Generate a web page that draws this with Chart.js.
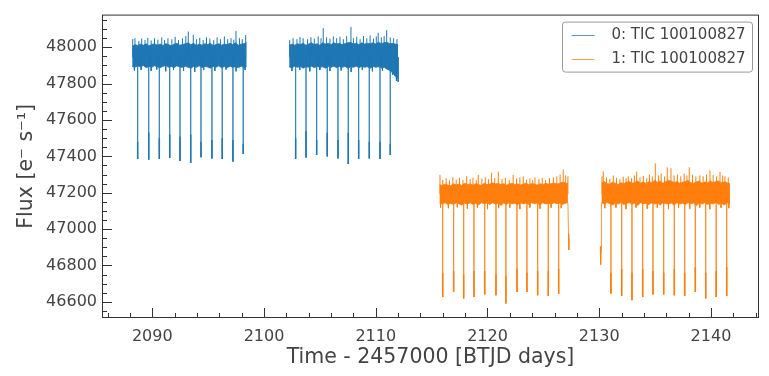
<!DOCTYPE html>
<html>
<head>
<meta charset="utf-8">
<script src="https://cdn.jsdelivr.net/npm/chart.js@4/dist/chart.umd.min.js"></script>
<style>
  html, body { margin: 0; padding: 0; background: #fff; }
</style>
</head>
<body>
<canvas id="lightCurve" width="769" height="376"></canvas>
<script>
// Light curve read off the picture: solid part of the noise band sampled
// every 0.25 d, the single noise spikes that stick out of it, and the eclipses.
const bandStep = 0.25;

// sector 0 (blue)
const seg1Start = 2088.2;
const seg1Upper = [48005, 48015, 48010, 48018, 48012, 48020, 48008, 48015, 48020, 48012,
  48018, 48010, 48020, 48015, 48008, 48018, 48022, 48012, 48015, 48020,
  48025, 48015, 48022, 48010, 48018, 48012, 48020, 48015, 48022, 48010,
  48015, 48020, 48012, 48018, 48015, 48022, 48015, 48025, 48012, 48018,
  48020, 48025];
const seg1Lower = [47895, 47890, 47898, 47892, 47900, 47888, 47895, 47890, 47898, 47893,
  47888, 47895, 47900, 47890, 47895, 47888, 47898, 47892, 47890, 47896,
  47890, 47885, 47895, 47890, 47898, 47888, 47895, 47892, 47885, 47895,
  47890, 47898, 47888, 47894, 47888, 47896, 47890, 47893, 47888, 47896,
  47890, 47895];

const seg2Start = 2102.25;
const seg2Upper = [48010, 48018, 48012, 48020, 48015, 48022, 48012, 48018, 48025, 48015,
  48020, 48012, 48025, 48018, 48022, 48015, 48025, 48018, 48022, 48015,
  48020, 48025, 48028, 48018, 48022, 48015, 48025, 48018, 48022, 48020,
  48025, 48018, 48028, 48020, 48025, 48028, 48020, 48022, 48018, 48015];
const seg2Lower = [47892, 47888, 47896, 47890, 47895, 47885, 47893, 47890, 47896, 47888,
  47895, 47890, 47893, 47885, 47895, 47890, 47896, 47888, 47894, 47890,
  47895, 47885, 47893, 47890, 47896, 47888, 47895, 47890, 47893, 47885,
  47895, 47890, 47893, 47886, 47890, 47880, 47872, 47860, 47840, 47828];

const blueLevel = 47945;
const blueSpikeTimes = [2088.25, 2088.45, 2088.8, 2089.05, 2089.35, 2089.6, 2089.9, 2090.2, 2090.5, 2090.85,
  2091.1, 2091.4, 2091.75, 2092.05, 2092.35, 2092.7, 2093.0, 2093.22, 2093.67, 2093.95,
  2094.25, 2094.55, 2094.85, 2095.15, 2095.5, 2095.8, 2096.1, 2096.45, 2096.75, 2097.05,
  2097.3, 2097.49, 2097.8, 2098.05, 2098.36,
  2102.3, 2102.6, 2102.95, 2103.22, 2103.5, 2103.9, 2104.2, 2104.5, 2104.85, 2105.1,
  2105.3, 2105.6, 2105.9, 2106.2, 2106.5, 2106.8, 2107.1, 2107.4, 2107.78, 2108.0,
  2108.3, 2108.6, 2108.9, 2109.2, 2109.5, 2109.8, 2110.05, 2110.22, 2110.5, 2110.75,
  2110.98, 2111.3, 2111.6, 2111.9];
const blueSpikeTops = [48045, 48050, 48035, 48048, 48040, 48052, 48038, 48050, 48042, 48055,
  48040, 48050, 48045, 48058, 48040, 48050, 48062, 48087, 48070, 48045,
  48052, 48040, 48055, 48048, 48040, 48055, 48045, 48060, 48045, 48050,
  48042, 48090, 48050, 48045, 48068,
  48040, 48050, 48045, 48057, 48050, 48045, 48055, 48048, 48060, 48050,
  48105, 48055, 48048, 48060, 48050, 48058, 48045, 48062, 48112, 48050,
  48058, 48045, 48062, 48050, 48065, 48048, 48060, 48080, 48055, 48062,
  48094, 48055, 48050, 48045];
const blueDropTimes = [2088.4, 2089.0, 2089.9, 2090.4, 2091.2, 2091.9, 2092.8, 2093.8, 2094.6, 2095.6,
  2096.6, 2097.5, 2098.3, 2102.5, 2103.2, 2104.1, 2105.0, 2105.9, 2106.9, 2107.8,
  2108.8, 2109.7, 2110.6, 2111.5, 2111.85, 2112.0];
const blueDropBottoms = [47872, 47875, 47870, 47878, 47868, 47875, 47870, 47865, 47875, 47870,
  47878, 47868, 47875, 47870, 47875, 47868, 47875, 47870, 47872, 47865,
  47875, 47868, 47872, 47850, 47815, 47810];

// sector 1 (orange)
const seg3Start = 2115.7;
const seg3Upper = [47245, 47240, 47248, 47242, 47238, 47250, 47243, 47248, 47240, 47252,
  47245, 47248, 47242, 47250, 47245, 47240, 47252, 47245, 47248, 47255,
  47248, 47252, 47245, 47250, 47242, 47248, 47252, 47245, 47250, 47242,
  47248, 47252, 47245, 47250, 47248, 47242, 47250, 47245, 47252, 47248,
  47250, 47255, 47248, 47252, 47258, 47255, 47250];
const seg3Lower = [47142, 47138, 47145, 47136, 47142, 47135, 47145, 47140, 47132, 47143,
  47138, 47145, 47136, 47142, 47133, 47145, 47140, 47143, 47136, 47145,
  47138, 47142, 47130, 47143, 47136, 47146, 47138, 47142, 47134, 47145,
  47138, 47143, 47136, 47145, 47140, 47143, 47133, 47145, 47138, 47142,
  47136, 47145, 47140, 47143, 47136, 47142, 47145];
const seg3TailTimes = [2127.25, 2127.28, 2127.3];
const seg3TailFlux = [46975, 46885, 46950];

const seg4HeadTimes = [2130.1, 2130.13, 2130.16];
const seg4HeadFlux = [46905, 46805, 46870];
const seg4Start = 2130.2;
const seg4Upper = [47255, 47262, 47250, 47248, 47258, 47252, 47245, 47255, 47250, 47258,
  47262, 47252, 47258, 47265, 47252, 47260, 47250, 47262, 47255, 47268,
  47258, 47265, 47252, 47262, 47268, 47265, 47255, 47262, 47252, 47258,
  47262, 47268, 47255, 47252, 47260, 47265, 47252, 47260, 47255, 47265,
  47255, 47262, 47265, 47255, 47260, 47255, 47250];
const seg4Lower = [47145, 47138, 47146, 47140, 47132, 47143, 47138, 47146, 47135, 47142,
  47145, 47138, 47143, 47130, 47145, 47140, 47142, 47135, 47145, 47138,
  47143, 47133, 47145, 47140, 47138, 47143, 47132, 47145, 47138, 47142,
  47135, 47145, 47140, 47143, 47130, 47142, 47138, 47145, 47135, 47143,
  47138, 47146, 47136, 47142, 47133, 47145, 47140];

const orangeLevel = 47192;
const orangeSpikeTimes = [2115.75, 2116.0, 2116.3, 2116.6, 2116.9, 2117.2, 2117.5, 2117.8, 2118.14, 2118.45,
  2118.7, 2119.0, 2119.18, 2119.5, 2119.8, 2120.1, 2120.37, 2120.65, 2120.97, 2121.3,
  2121.6, 2121.95, 2122.3, 2122.6, 2122.9, 2123.2, 2123.5, 2123.8, 2124.05, 2124.25,
  2124.6, 2124.9, 2125.2, 2125.55, 2125.9, 2126.2, 2126.5, 2126.78, 2127.0, 2127.2,
  2130.25, 2130.36, 2130.65, 2130.95, 2131.26, 2131.55, 2131.85, 2132.15, 2132.4, 2132.6,
  2132.9, 2133.15, 2133.35, 2133.65, 2133.95, 2134.25, 2134.5, 2134.75, 2135.02, 2135.3,
  2135.55, 2135.85, 2136.09, 2136.42, 2136.7, 2137.0, 2137.3, 2137.6, 2137.85, 2138.06,
  2138.35, 2138.65, 2139.01, 2139.3, 2139.6, 2139.91, 2140.2, 2140.5, 2140.81, 2141.05,
  2141.25, 2141.55];
const orangeSpikeTops = [47298, 47270, 47280, 47268, 47285, 47272, 47282, 47270, 47292, 47275,
  47282, 47270, 47298, 47278, 47285, 47275, 47310, 47280, 47316, 47275,
  47282, 47270, 47298, 47278, 47285, 47290, 47272, 47280, 47270, 47285,
  47275, 47282, 47270, 47280, 47285, 47290, 47300, 47328, 47295, 47290,
  47290, 47319, 47285, 47278, 47295, 47282, 47275, 47288, 47280, 47290,
  47282, 47295, 47316, 47285, 47292, 47280, 47300, 47290, 47362, 47295,
  47305, 47290, 47340, 47335, 47295, 47300, 47290, 47305, 47295, 47340,
  47298, 47290, 47295, 47290, 47300, 47322, 47298, 47290, 47315, 47295,
  47290, 47285];
const orangeDropTimes = [2115.8, 2116.5, 2117.3, 2118.2, 2119.1, 2120.0, 2121.0, 2122.0, 2122.9, 2123.8,
  2124.7, 2125.7, 2126.6, 2130.5, 2131.5, 2132.4, 2133.3, 2134.3, 2135.2, 2136.2,
  2137.1, 2138.1, 2139.0, 2139.9, 2140.9, 2141.6];
const orangeDropBottoms = [47118, 47115, 47120, 47112, 47118, 47110, 47115, 47118, 47110, 47118,
  47112, 47118, 47115, 47115, 47118, 47110, 47118, 47112, 47118, 47110,
  47118, 47112, 47118, 47110, 47118, 47115];

// eclipses: bottom of each dip and top of its dense lower part
const blueDipTimes = [2088.69, 2089.68, 2090.63, 2091.56, 2092.48, 2093.44, 2094.36, 2095.34, 2096.26, 2097.22, 2098.14,
  2102.83, 2103.76, 2104.71, 2105.66, 2106.62, 2107.54, 2108.47, 2109.42, 2110.38, 2111.3];
const blueDipDepths = [47386, 47382, 47386, 47391, 47375, 47364, 47395, 47389, 47386, 47371, 47413,
  47386, 47393, 47408, 47400, 47389, 47358, 47386, 47389, 47386, 47408];
const blueDipCores = [47480, 47530, 47500, 47520, 47510, 47520, 47480, 47490, 47500, 47490, 47470,
  47500, 47540, 47490, 47530, 47490, 47530, 47490, 47480, 47480, 47470];

const orangeDipTimes = [2115.99, 2116.97, 2117.87, 2118.79, 2119.75, 2120.76, 2121.65, 2122.64, 2123.53, 2124.49, 2125.44, 2126.37,
  2131.05, 2132.01, 2132.93, 2133.89, 2134.81, 2135.77, 2136.72, 2137.65, 2138.6, 2139.53, 2140.47, 2141.41];
const orangeDipDepths = [46627, 46654, 46618, 46627, 46640, 46636, 46591, 46654, 46654, 46636, 46632, 46645,
  46645, 46632, 46609, 46627, 46640, 46640, 46636, 46632, 46654, 46618, 46627, 46632];
const orangeDipCores = [46760, 46770, 46750, 46770, 46770, 46750, 46740, 46780, 46760, 46770, 46770, 46780,
  46760, 46780, 46760, 46780, 46770, 46760, 46780, 46760, 46790, 46760, 46770, 46790];

const seriesLabels = ['0: TIC 100100827', '1: TIC 100100827'];
const xTickValues = [2090, 2100, 2110, 2120, 2130, 2140];
const yTickValues = [46600, 46800, 47000, 47200, 47400, 47600, 47800, 48000];

const BLUE = '#1f77b4';
const ORANGE = '#ff7f0e';
const TEXT = '#444444';
const FONT = 'DejaVu Sans';

function bandPoints(start, values) {
  return values.map((v, i) => ({ x: +(start + i * bandStep).toFixed(3), y: v }));
}

function pairPoints(times, values) {
  return times.map((t, i) => ({ x: t, y: values[i] }));
}

// one vertical stroke per time, from `from` (number or array) to values[i]
function strokePoints(times, from, values) {
  const pts = [];
  times.forEach((t, i) => {
    const y0 = Array.isArray(from) ? from[i] : from;
    pts.push({ x: t, y: y0 }, { x: t, y: values[i] }, { x: t, y: null });
  });
  return pts;
}

function bandSet(data, color, fill, label) {
  return {
    label: label || '',
    inLegend: !!label,
    data: data,
    borderColor: color,
    backgroundColor: color,
    borderWidth: 0.8,
    pointRadius: 0,
    fill: fill
  };
}

function strokeSet(data, color, width) {
  return {
    label: '',
    data: data,
    borderColor: color,
    borderWidth: width,
    pointRadius: 0,
    fill: false,
    spanGaps: false
  };
}

const datasets = [
  strokeSet(strokePoints(blueDipTimes, blueLevel, blueDipDepths), 'rgba(31,119,180,0.6)', 1),
  strokeSet(strokePoints(blueDipTimes, blueDipCores, blueDipDepths), BLUE, 1.5),
  strokeSet(strokePoints(orangeDipTimes, orangeLevel, orangeDipDepths), 'rgba(255,127,14,0.6)', 1),
  strokeSet(strokePoints(orangeDipTimes, orangeDipCores, orangeDipDepths), ORANGE, 1.5),
  strokeSet(strokePoints(blueSpikeTimes, blueLevel, blueSpikeTops), BLUE, 1),
  strokeSet(strokePoints(blueDropTimes, blueLevel, blueDropBottoms), BLUE, 1),
  strokeSet(strokePoints(orangeSpikeTimes, orangeLevel, orangeSpikeTops), ORANGE, 1),
  strokeSet(strokePoints(orangeDropTimes, orangeLevel, orangeDropBottoms), ORANGE, 1),
  bandSet(bandPoints(seg1Start, seg1Upper), BLUE, '+1', seriesLabels[0]),
  bandSet(bandPoints(seg1Start, seg1Lower), BLUE, false),
  bandSet(bandPoints(seg2Start, seg2Upper), BLUE, '+1'),
  bandSet(bandPoints(seg2Start, seg2Lower), BLUE, false),
  bandSet(bandPoints(seg3Start, seg3Upper), ORANGE, '+1', seriesLabels[1]),
  bandSet(bandPoints(seg3Start, seg3Lower).concat(pairPoints(seg3TailTimes, seg3TailFlux)), ORANGE, false),
  bandSet(bandPoints(seg4Start, seg4Upper), ORANGE, '+1'),
  bandSet(pairPoints(seg4HeadTimes, seg4HeadFlux).concat(bandPoints(seg4Start, seg4Lower)), ORANGE, false)
];

// spines + inward ticks (major and minor) like the matplotlib style
const frameTicks = {
  id: 'frameTicks',
  afterDraw(chart) {
    const ctx = chart.ctx;
    const a = chart.chartArea;
    const xs = chart.scales.x, ys = chart.scales.y;
    ctx.save();
    ctx.strokeStyle = '#333333';
    ctx.lineWidth = 1;
    ctx.strokeRect(a.left + 0.5, a.top + 0.5, a.right - a.left - 1, a.bottom - a.top - 1);
    ctx.beginPath();
    for (let v = Math.ceil(xs.min / 2) * 2; v <= xs.max; v += 2) {
      const px = Math.round(xs.getPixelForValue(v)) + 0.5;
      const len = v % 10 === 0 ? 10 : 5;
      ctx.moveTo(px, a.bottom);
      ctx.lineTo(px, a.bottom - len);
    }
    for (let v = Math.ceil(ys.min / 50) * 50; v <= ys.max; v += 50) {
      const py = Math.round(ys.getPixelForValue(v)) + 0.5;
      const len = v % 200 === 0 ? 10 : 5;
      ctx.moveTo(a.left, py);
      ctx.lineTo(a.left + len, py);
    }
    ctx.stroke();
    ctx.restore();
  }
};

// framed legend in the upper right corner of the axes
const boxLegend = {
  id: 'boxLegend',
  afterDraw(chart) {
    const ctx = chart.ctx;
    const a = chart.chartArea;
    const items = chart.data.datasets.filter(d => d.inLegend);
    const w = 190, rowH = 24;
    const h = items.length * rowH + 2;
    const x0 = a.right - 6.5 - w, y0 = a.top + 7.5;
    ctx.save();
    ctx.fillStyle = 'rgba(255,255,255,0.8)';
    ctx.strokeStyle = '#999999';
    ctx.lineWidth = 1;
    ctx.beginPath();
    ctx.roundRect(x0, y0, w, h, 3);
    ctx.fill();
    ctx.stroke();
    ctx.font = '15px "' + FONT + '"';
    ctx.textBaseline = 'middle';
    ctx.textAlign = 'left';
    items.forEach((d, i) => {
      const cy = Math.round(y0 + 13 + i * rowH) + 0.5;
      ctx.strokeStyle = d.borderColor;
      ctx.globalAlpha = 0.75;
      ctx.beginPath();
      ctx.moveTo(x0 + 9, cy);
      ctx.lineTo(x0 + 32, cy);
      ctx.stroke();
      ctx.globalAlpha = 1;
      ctx.fillStyle = TEXT;
      ctx.fillText(d.label, x0 + 49, cy);
    });
    ctx.restore();
  }
};

new Chart(document.getElementById('lightCurve').getContext('2d'), {
  type: 'line',
  data: { datasets: datasets },
  options: {
    responsive: false,
    animation: false,
    events: [],
    layout: { padding: { top: 10, right: 10, left: 0, bottom: 0 } },
    plugins: {
      legend: { display: false },
      tooltip: { enabled: false }
    },
    scales: {
      x: {
        type: 'linear',
        min: 2085.5,
        max: 2144.3,
        grid: { display: false, drawTicks: false },
        border: { display: false },
        afterFit: s => { s.height = 58; },
        afterBuildTicks: s => { s.ticks = xTickValues.map(v => ({ value: v })); },
        ticks: {
          padding: 9,
          color: TEXT,
          font: { family: FONT, size: 16 },
          maxRotation: 0,
          callback: v => String(v)
        },
        title: {
          display: true,
          text: 'Time - 2457000 [BTJD days]',
          color: TEXT,
          font: { family: FONT, size: 20.5 },
          padding: { top: 0, bottom: 6 }
        }
      },
      y: {
        type: 'linear',
        min: 46511,
        max: 48180,
        grid: { display: false, drawTicks: false },
        border: { display: false },
        afterFit: s => { s.width = 102; },
        afterBuildTicks: s => { s.ticks = yTickValues.map(v => ({ value: v })); },
        ticks: {
          padding: 5,
          color: TEXT,
          font: { family: FONT, size: 16 },
          callback: v => String(v)
        },
        title: {
          display: true,
          text: 'Flux [e⁻ s⁻¹]',
          color: TEXT,
          font: { family: FONT, size: 20.5 },
          padding: { top: 14, bottom: 0 }
        }
      }
    }
  },
  plugins: [frameTicks, boxLegend]
});
</script>
</body>
</html>
